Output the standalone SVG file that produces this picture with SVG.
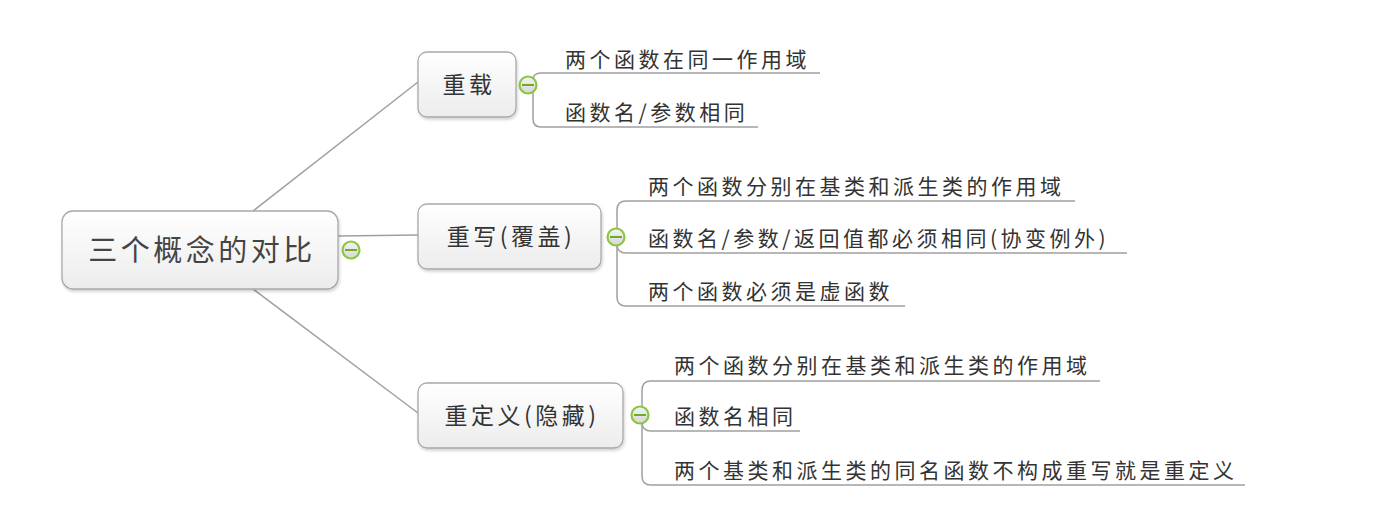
<svg xmlns="http://www.w3.org/2000/svg" width="1384" height="519" viewBox="0 0 1384 519">
<defs>
<linearGradient id="nodeFill" x1="0" y1="0" x2="0" y2="1">
<stop offset="0" stop-color="#ffffff"/>
<stop offset="1" stop-color="#ececec"/>
</linearGradient>
<linearGradient id="btnFill" x1="0" y1="0" x2="0" y2="1">
<stop offset="0" stop-color="#f4f4f4"/>
<stop offset="1" stop-color="#d6d6d6"/>
</linearGradient>
<filter id="shadow" x="-10%" y="-10%" width="130%" height="140%">
<feDropShadow dx="1" dy="2" stdDeviation="1.5" flood-color="#000" flood-opacity="0.18"/>
</filter>
</defs>
<style>
.node{fill:url(#nodeFill);stroke:#a8a8a8;stroke-width:1.3;filter:url(#shadow)}
.conn{fill:none;stroke:#a0a0a0;stroke-width:1.5}
.btn circle{fill:url(#btnFill);stroke:#8cc63f;stroke-width:2.2}
.btn line{stroke:#6cae2a;stroke-width:2}
.t{font-family:"Noto Sans CJK SC","Noto Sans",sans-serif;fill:#333}
.leaf{font-size:21px;letter-spacing:3.5px}
.topic{font-size:23px;text-anchor:middle;letter-spacing:3.5px}
.root{font-family:"Noto Sans CJK SC",serif;font-size:29px;fill:#444;text-anchor:middle;letter-spacing:3.5px}
</style>
<g id="connectors">
<line class="conn" x1="253" y1="211" x2="418" y2="82"/>
<line class="conn" x1="338" y1="236" x2="418" y2="235"/>
<line class="conn" x1="253" y1="289" x2="418" y2="413"/>
<path class="conn" d="M528 85 L533 85 L533 80 Q533 73 541 73 L820 73"/>
<path class="conn" d="M528 85 L533 85 L533 119 Q533 127 541 127 L758 127"/>
<path class="conn" d="M616 237 L617 237 L617 210 Q617 201 626 201 L1075 201"/>
<path class="conn" d="M617 237 L617 244 Q617 253 626 253 L1127 253"/>
<path class="conn" d="M617 237 L617 297 Q617 306 626 306 L905 306"/>
<path class="conn" d="M640 415 L642 415 L642 390 Q642 381 651 381 L1100 381"/>
<path class="conn" d="M642 415 L642 422 Q642 431 651 431 L800 431"/>
<path class="conn" d="M642 415 L642 476 Q642 485 651 485 L1245 485"/>
</g>
<g id="root">
<rect class="node" x="62" y="211" width="276" height="78" rx="11"/>
<text class="root" x="202" y="261">三个概念的对比</text>
<g class="btn"><circle cx="351" cy="250" r="8.5"/><line x1="345" y1="250" x2="357" y2="250"/></g>
</g>
<g id="n-overload">
<rect class="node" x="418" y="52" width="98" height="65" rx="9"/>
<text class="t topic" x="469" y="93">重载</text>
<g class="btn"><circle cx="528" cy="85" r="8.5"/><line x1="522" y1="85" x2="534" y2="85"/></g>
</g>
<g id="n-overload-1"><text class="t leaf" x="565" y="67">两个函数在同一作用域</text></g>
<g id="n-overload-2"><text class="t leaf" x="565" y="120">函数名/参数相同</text></g>
<g id="n-override">
<rect class="node" x="418" y="204" width="183" height="65" rx="9"/>
<text class="t topic" x="511" y="245">重写(覆盖)</text>
<g class="btn"><circle cx="616" cy="237" r="8.5"/><line x1="610" y1="237" x2="622" y2="237"/></g>
</g>
<g id="n-override-1"><text class="t leaf" x="648" y="194">两个函数分别在基类和派生类的作用域</text></g>
<g id="n-override-2"><text class="t leaf" x="648" y="246">函数名/参数/返回值都必须相同(协变例外)</text></g>
<g id="n-override-3"><text class="t leaf" x="648" y="299">两个函数必须是虚函数</text></g>
<g id="n-redefine">
<rect class="node" x="418" y="383" width="205" height="65" rx="9"/>
<text class="t topic" x="522" y="424">重定义(隐藏)</text>
<g class="btn"><circle cx="640" cy="415" r="8.5"/><line x1="634" y1="415" x2="646" y2="415"/></g>
</g>
<g id="n-redefine-1"><text class="t leaf" x="674" y="373">两个函数分别在基类和派生类的作用域</text></g>
<g id="n-redefine-2"><text class="t leaf" x="674" y="424">函数名相同</text></g>
<g id="n-redefine-3"><text class="t leaf" x="674" y="478">两个基类和派生类的同名函数不构成重写就是重定义</text></g>
</svg>
